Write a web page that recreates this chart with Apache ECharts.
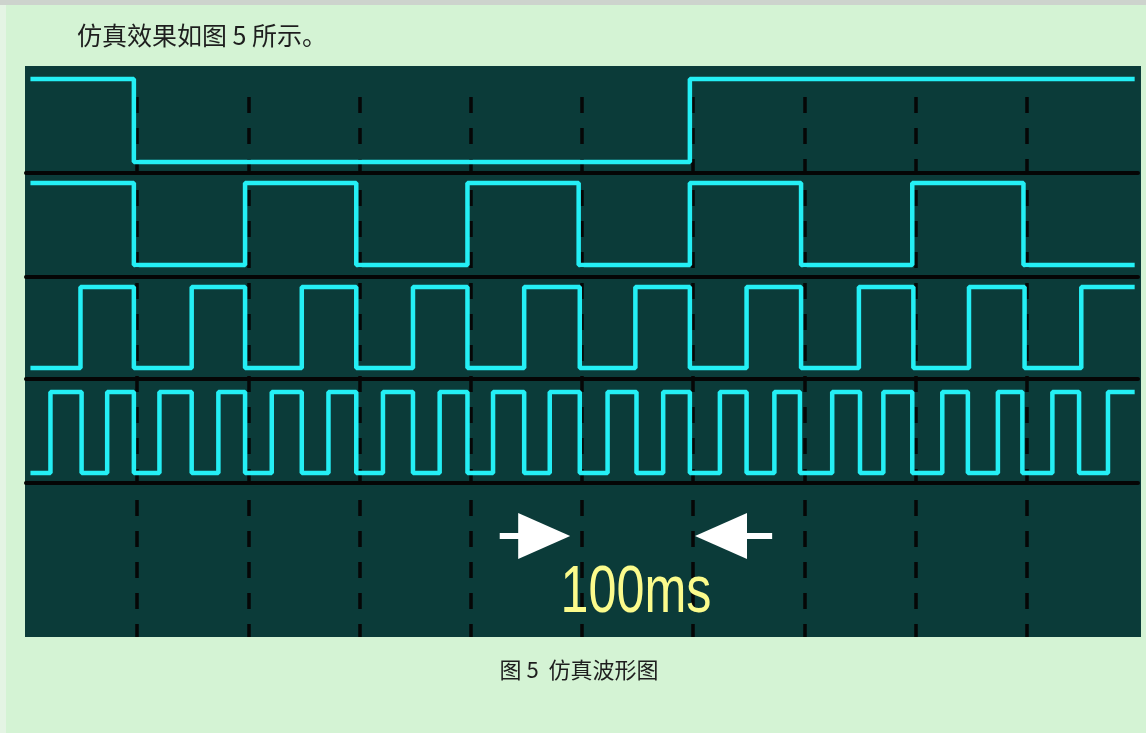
<!DOCTYPE html>
<html>
<head>
<meta charset="utf-8">
<title>仿真波形图</title>
<script src="https://cdn.jsdelivr.net/npm/echarts@6/dist/echarts.min.js"></script>
<style>
html, body { margin: 0; padding: 0; background: #d4f3d4; }
#stripTop { position: absolute; left: 0; top: 0; width: 1146px; height: 5px; background: #cdd3cd; }
#stripLeft { position: absolute; left: 0; top: 5px; width: 6px; height: 728px; background: #e4f4e4; }
#main { position: absolute; left: 0; top: 0; width: 1146px; height: 733px; }
</style>
</head>
<body>
<div id="stripTop"></div>
<div id="stripLeft"></div>
<div id="main"></div>
<script>
// time axis in ms, one division = 100ms
var timeMin = 0;
var timeMax = 1000;
var timeStep = 100;

// each trace: level at the left edge, then times (ms) where it toggles
var traceStart = 4;
var traceEnd = 997;
var startLevels = [1, 1, 0, 0];
var ch1Edges = [97, 597];
var ch2Edges = [97, 197, 297, 397, 497, 597, 697, 797, 897];
var ch3Edges = [49, 97, 149, 197, 248, 297, 348, 397, 448, 498, 548, 597, 648, 697, 749, 798, 848, 898, 949];
var ch4Edges = [22, 50, 73, 97, 120, 149, 173, 197, 221, 248, 272, 297, 321, 348, 372, 397, 420, 448,
                471, 498, 523, 549, 573, 597, 624, 648, 673, 696, 725, 750, 771, 797, 824, 847, 874, 896,
                923, 947, 973];

// the "100ms" marker arrows (ms, height above the panel floor)
var arrowLeft = [426, 466];
var arrowRight = [671, 625];
var arrowLevel = 101;
var markText = '100ms';

var titleText = '仿真效果如图 5 所示。';
var captionText = '图 5  仿真波形图';

var cyan = '#24eff5';
var panelColor = '#0b3b39';

// lane layout (px)
var laneTop = [79, 183, 287, 392];
var laneHeight = [94, 94, 92, 91];
var laneMin = [-0.133, -0.146, -0.136, -0.123];

function buildSteps(level, edges) {
    var pts = [[traceStart, level]];
    for (var i = 0; i < edges.length; i++) {
        level = 1 - level;
        pts.push([edges[i], level]);
    }
    pts.push([traceEnd, level]);
    return pts;
}

var chart = echarts.init(document.getElementById('main'));

var grids = [
    {left: 25, top: 66, width: 1116, height: 571, show: true, backgroundColor: panelColor, borderWidth: 0},
    {left: 26, right: 8, top: 97, bottom: 96}
];
var xAxes = [
    {gridIndex: 0, type: 'value', min: 0, max: 1, show: false},
    {
        gridIndex: 1, type: 'value', min: timeMin, max: timeMax, interval: timeStep,
        axisLine: {show: false}, axisTick: {show: false}, axisLabel: {show: false},
        splitLine: {
            show: true, showMinLine: false, showMaxLine: false,
            lineStyle: {color: '#060606', width: 3.5, type: [16, 15]}
        }
    }
];
var yAxes = [
    {gridIndex: 0, type: 'value', min: 0, max: 1, show: false},
    {gridIndex: 1, type: 'value', min: 0, max: 540, show: false}
];

var allEdges = [ch1Edges, ch2Edges, ch3Edges, ch4Edges];
var series = [];
for (var k = 0; k < 4; k++) {
    grids.push({left: 26, right: 8, top: laneTop[k], height: laneHeight[k]});
    xAxes.push({
        gridIndex: k + 2, type: 'value', min: timeMin, max: timeMax, position: 'bottom',
        axisLine: {show: true, onZero: false, lineStyle: {color: '#050505', width: 4}},
        axisTick: {show: false}, axisLabel: {show: false}, splitLine: {show: false}
    });
    yAxes.push({gridIndex: k + 2, type: 'value', min: laneMin[k], max: 1, show: false});
    series.push({
        type: 'line',
        xAxisIndex: k + 2,
        yAxisIndex: k + 2,
        step: 'end',
        symbol: 'none',
        clip: false,
        silent: true,
        lineStyle: {color: cyan, width: 4.5},
        data: buildSteps(startLevels[k], allEdges[k])
    });
}

series.push({
    type: 'line',
    xAxisIndex: 1,
    yAxisIndex: 1,
    data: [],
    markLine: {
        silent: true,
        animation: false,
        symbol: ['none', 'triangle'],
        symbolSize: 52,
        label: {show: false},
        lineStyle: {color: '#ffffff', width: 6, type: 'solid'},
        data: [
            [{coord: [arrowLeft[0], arrowLevel]},
             {coord: [arrowLeft[1], arrowLevel], symbol: 'triangle', symbolSize: [46, 52]}],
            [{coord: [arrowRight[0], arrowLevel]},
             {coord: [arrowRight[1], arrowLevel], symbol: 'triangle', symbolSize: [46, 52]}]
        ]
    }
});

var option = {
    animation: false,
    grid: grids,
    xAxis: xAxes,
    yAxis: yAxes,
    series: series,
    graphic: [
        {
            type: 'text', x: 77, y: 35,
            style: {
                text: titleText, fill: '#1e1e1e', fontSize: 25,
                fontFamily: 'Noto Sans CJK SC',
                textAlign: 'left', align: 'left', textVerticalAlign: 'middle', verticalAlign: 'middle'
            }
        },
        {
            type: 'text', x: 579, y: 670,
            style: {
                text: captionText, fill: '#1e1e1e', fontSize: 22,
                fontFamily: 'Noto Sans CJK SC',
                textAlign: 'center', align: 'center', textVerticalAlign: 'middle', verticalAlign: 'middle'
            }
        },
        {
            type: 'text', x: 636, y: 594, scaleX: 0.75, z: 10,
            style: {
                text: markText, fill: '#fbfb8c', fontSize: 67,
                fontFamily: 'Liberation Sans',
                textAlign: 'center', align: 'center', textVerticalAlign: 'middle', verticalAlign: 'middle'
            }
        }
    ]
};

chart.setOption(option);
</script>
</body>
</html>
